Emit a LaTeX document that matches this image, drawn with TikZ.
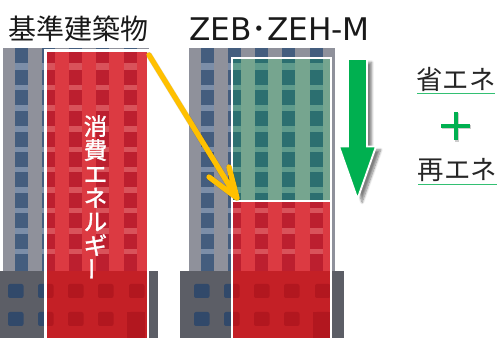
\documentclass[tikz,border=0pt]{standalone}
\usepackage{fontspec}
\usetikzlibrary{shadows.blur}
\newfontfamily\jpfont{Noto Sans CJK JP}
\newfontfamily\capfont[FakeBold=1.6]{Noto Sans CJK JP}
\newfontfamily\latinfont{DejaVu Sans}
\definecolor{yellowline}{HTML}{FFC000}
\definecolor{greenmark}{HTML}{00B050}
\definecolor{wallgray}{HTML}{8F919B}
\definecolor{stripgray}{HTML}{7C8EA8}
\definecolor{wingray}{HTML}{445D7E}
\definecolor{podgray}{HTML}{5C5E66}
\definecolor{podwingray}{HTML}{31496A}
\definecolor{wallred}{HTML}{DC3A42}
\definecolor{stripred}{HTML}{D9525A}
\definecolor{winred}{HTML}{BC1F2F}
\definecolor{podred}{HTML}{C42026}
\definecolor{podwinred}{HTML}{B2171F}
\definecolor{wallgreen}{HTML}{76A58F}
\definecolor{stripgreen}{HTML}{5F9B8C}
\definecolor{wingreen}{HTML}{2C6F70}
\tikzset{
  label text/.style={font=\jpfont\fontsize{21pt}{24pt}\selectfont,text=black!90,inner sep=0pt},
  side text/.style={font=\jpfont\fontsize{19.8pt}{23pt}\selectfont,text=black!85,inner sep=0pt},
  rule line/.style={draw=greenmark!80!white,line width=0.9pt},
  frame line/.style={draw=white,line width=2.2pt},
  pointer/.style={draw=yellowline,line width=4pt,line cap=round,line join=round},
  pointer shade/.style={draw=black,opacity=0.12,line width=4.6pt,line cap=round,line join=round}
}
% One office block: tower with window strips, wider podium with two window rows and a door.
% #1 x offset, #2 wall, #3 strip, #4 window, #5 podium, #6 podium window
\newcommand{\officeblock}[6]{%
  \begin{scope}[xshift=#1*0.75pt]
    \fill[#2] (3,48) rectangle (149,272);
    \foreach \cx in {15,42,69,96,124}{
      \fill[#3] (\cx,48) rectangle ++(13,224);
      \foreach \ry in {48,70,90,111,132,152,172,193,213,234,254}{
        \fill[#4] (\cx,\ry) rectangle ++(13,15);
      }
      \fill[#4] (\cx,254) rectangle ++(13,17);
    }
    \fill[#5] (-6,271) rectangle (158,338);
    \foreach \cx in {8,38,68,98,129}{
      \foreach \ry in {284,312}{
        \fill[#6,rounded corners=1.5pt] (\cx,\ry) rectangle ++(15.5,14);
      }
    }
    \fill[#6] (127,312) rectangle (145,338);
  \end{scope}%
}
\begin{document}
\begin{tikzpicture}[x=0.75pt,y=-0.75pt]
\useasboundingbox (0,0) rectangle (497,338);
\begin{scope}
\clip (0,0) rectangle (497,338);

% left block and its red overlay
\officeblock{0}{wallgray}{stripgray}{wingray}{podgray}{podwingray}
\begin{scope}
  \clip (46,51) rectangle (148,338);
  \officeblock{0}{wallred}{stripred}{winred}{podred}{podwinred}
\end{scope}
\draw[frame line] (45.5,50.5) -- (148,50.5) -- (148,340) (45.5,49.5) -- (45.5,340);

% right block with green and red overlays
\officeblock{186}{wallgray}{stripgray}{wingray}{podgray}{podwingray}
\begin{scope}
  \clip (232,58) rectangle (331,201);
  \officeblock{186}{wallgreen}{stripgreen}{wingreen}{wingreen}{wingreen}
\end{scope}
\begin{scope}
  \clip (232,201) rectangle (331,338);
  \officeblock{186}{wallred}{stripred}{winred}{podred}{podwinred}
\end{scope}
\draw[frame line] (232,340) -- (232,58) -- (331,58) -- (331,340) (232,201) -- (331,201);

% vertical caption
\node[text=white,inner sep=0pt,align=center,
      font=\capfont\fontsize{17.6pt}{17.9pt}\selectfont] (caption) at (95.5,198)
  {消\\費\\エ\\ネ\\ル\\ギ\\\rotatebox{90}{ー}};

% headings
\node[label text] (basetitle) at (78.5,29) {基準建築物};
\node[label text,font=\latinfont\fontsize{23.4pt}{26pt}\selectfont] (zebtitle) at (279.5,29) {ZEB{\jpfont･}ZEH-M};

% pointer from the baseline frame corner to the top of the red part
\coordinate (pstart) at (149,55);
\coordinate (ptip) at (237,198);
\coordinate (barbl) at (209,177);
\coordinate (barbr) at (229,167);
\draw[pointer shade,xshift=1.5pt,yshift=-1.5pt] (pstart) -- (ptip) (barbl) -- (ptip) -- (barbr);
\draw[pointer] (pstart) -- (ptip) (barbl) -- (ptip) -- (barbr);

% reduction arrow
\path[fill=greenmark,draw=white,line width=1.4pt,line join=miter,
      blur shadow={shadow xshift=3.5pt,shadow yshift=-2.5pt,shadow blur steps=8,shadow opacity=50}]
  (348,59) -- (367,59) -- (367,146.5) -- (376,146.5) -- (357.5,199) -- (339,146.5) -- (348,146.5) -- cycle;

% right-hand legend
\node[side text] (save) at (456,79) {省エネ};
\draw[rule line] (417,93.5) -- (495,93.5);
\node[side text] (renew) at (457.5,170) {再エネ};
\draw[rule line] (418,184.5) -- (497,184.5);
\draw[draw=black,opacity=0.2,line width=3pt] (442,127.5) -- (471,127.5) (456.5,113) -- (456.5,142);
\draw[draw=greenmark,line width=3pt] (441,126) -- (470,126) (455.5,112) -- (455.5,140);
\end{scope}
\end{tikzpicture}
\end{document}
